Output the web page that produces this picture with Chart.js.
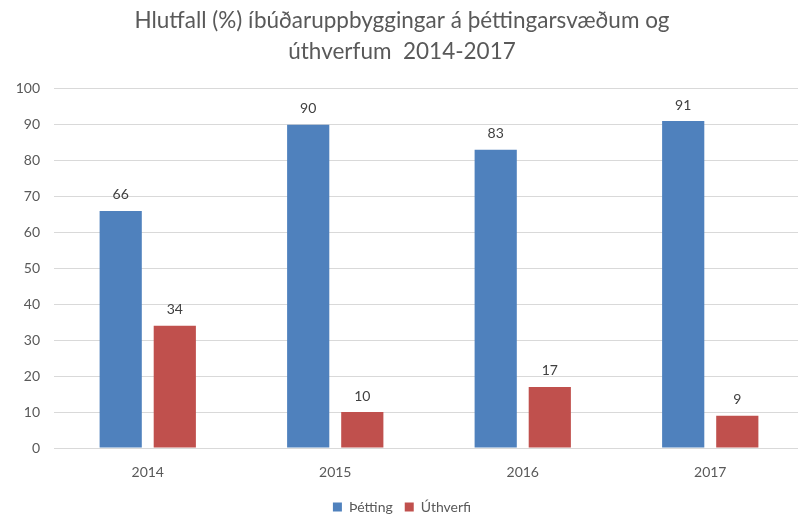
<!DOCTYPE html>
<html>
<head>
<meta charset="utf-8">
<script src="https://cdn.jsdelivr.net/npm/chart.js@4"></script>
<style>
  html, body { margin: 0; padding: 0; background: #fff; overflow: hidden; }
  #wrap { width: 820px; height: 515px; }
</style>
</head>
<body>
<div id="wrap"><canvas id="chart" width="820" height="515"></canvas></div>
<script>
const years = ["2014", "2015", "2016", "2017"];
const thetting = [66, 90, 83, 91];
const uthverfi = [34, 10, 17, 9];
const titleLines = ["Hlutfall (%) íbúðaruppbyggingar á þéttingarsvæðum og", "úthverfum  2014-2017"];

const fontFamily = "Lato, 'Open Sans', sans-serif";

// draws the value above each bar
const barValues = {
  id: "barValues",
  afterDatasetsDraw(chart) {
    const ctx = chart.ctx;
    ctx.save();
    ctx.font = "14px " + fontFamily;
    ctx.fillStyle = "#404040";
    ctx.textAlign = "center";
    ctx.textBaseline = "middle";
    chart.data.datasets.forEach((ds, i) => {
      chart.getDatasetMeta(i).data.forEach((bar, j) => {
        ctx.fillText(ds.data[j], bar.x, bar.y - 16);
      });
    });
    ctx.restore();
  }
};

new Chart(document.getElementById("chart"), {
  type: "bar",
  data: {
    labels: years,
    datasets: [
      { label: "Þétting", data: thetting, backgroundColor: "#4F81BD" },
      { label: "Úthverfi", data: uthverfi, backgroundColor: "#C0504D" }
    ]
  },
  options: {
    responsive: false,
    animation: false,
    layout: { padding: { left: 0, right: 16, top: 0, bottom: -9 } },
    datasets: { bar: { categoryPercentage: 0.577, barPercentage: 0.78 } },
    plugins: {
      title: {
        display: true,
        text: titleLines,
        color: "#595959",
        font: { family: fontFamily, size: 22.5, weight: "normal", lineHeight: 1.35 },
        padding: { top: 6, bottom: 22 }
      },
      legend: {
        position: "bottom",
        labels: {
          color: "#595959",
          font: { family: fontFamily, size: 14 },
          boxWidth: 9,
          boxHeight: 9,
          padding: 12
        }
      },
      tooltip: { enabled: false }
    },
    scales: {
      x: {
        grid: { display: false },
        border: { color: "#d9d9d9" },
        ticks: { color: "#595959", font: { family: fontFamily, size: 14 }, padding: 8 },
        afterFit(scale) { scale.height = 40; }
      },
      y: {
        min: 0,
        max: 100,
        ticks: { stepSize: 10, color: "#595959", font: { family: fontFamily, size: 14 }, padding: 14 },
        grid: { color: "#d9d9d9", drawTicks: false },
        border: { display: false },
        afterFit(scale) { scale.width = 54; }
      }
    }
  },
  plugins: [barValues]
});
</script>
</body>
</html>
